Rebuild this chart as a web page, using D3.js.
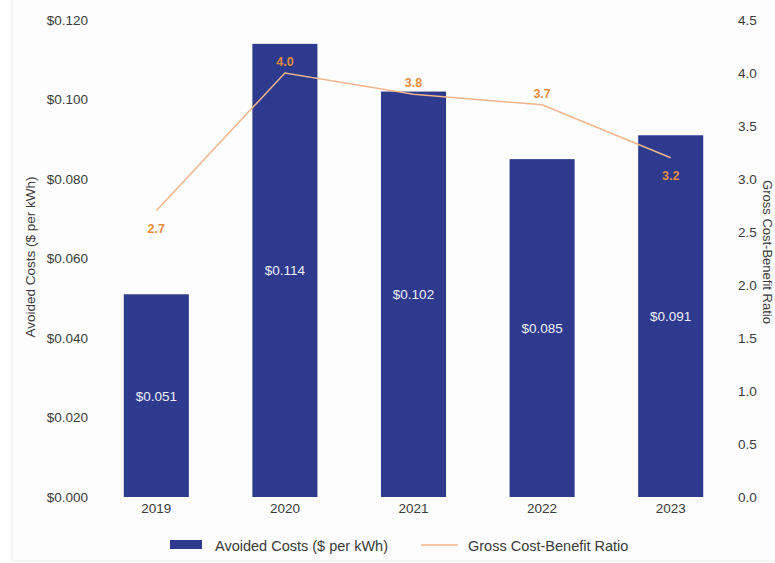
<!DOCTYPE html>
<html><head><meta charset="utf-8">
<script src="https://cdn.jsdelivr.net/npm/d3@7"></script>
<style>body{margin:0;background:#fff}svg{display:block;font-family:"Liberation Sans",Arial,sans-serif}</style>
</head><body>
<svg id="c" width="775" height="563"></svg>
<script>
const years = ["2019","2020","2021","2022","2023"];
const avoidedCosts = [0.051,0.114,0.102,0.085,0.091];
const ratio = [2.7,4.0,3.8,3.7,3.2];
const leftTicks = [0,0.02,0.04,0.06,0.08,0.10,0.12];
const rightTicks = [0,0.5,1.0,1.5,2.0,2.5,3.0,3.5,4.0,4.5];
const ratioLabelPos = ["below","above","above","above","below"];

const svg = d3.select("#c");
svg.append("rect").attr("x",12).attr("y",-1).attr("width",770).attr("height",562).attr("fill","#fdfdfd").attr("stroke","#ebebeb");

const x = d3.scaleBand().domain(years).range([92,735]).paddingInner(0.494).paddingOuter(0.247);
const yL = d3.scaleLinear().domain([0,0.12]).range([497,20]);
const yR = d3.scaleLinear().domain([0,4.5]).range([497,20]);

const txt = "#3a3a3a";
const lAxis = svg.append("g").attr("transform","translate(96,0)")
  .call(d3.axisLeft(yL).tickValues(leftTicks).tickFormat(d=>"$"+d.toFixed(3)).tickSize(0).tickPadding(8));
const rAxis = svg.append("g").attr("transform","translate(730,0)")
  .call(d3.axisRight(yR).tickValues(rightTicks).tickFormat(d=>d.toFixed(1)).tickSize(0).tickPadding(8));
const bAxis = svg.append("g").attr("transform","translate(0,497)")
  .call(d3.axisBottom(x).tickSize(0).tickPadding(6));
[lAxis,rAxis,bAxis].forEach(g=>{g.select(".domain").remove();g.selectAll("text").attr("fill",txt).style("font-size","13.5px").style("font-family","Liberation Sans, Arial, sans-serif");});

svg.append("text").attr("transform","translate(35,257) rotate(-90)").attr("text-anchor","middle")
  .attr("fill",txt).style("font-size","13.5px").text("Avoided Costs ($ per kWh)");
svg.append("text").attr("transform","translate(763,252) rotate(90)").attr("text-anchor","middle")
  .attr("fill",txt).style("font-size","13px").text("Gross Cost-Benefit Ratio");

const barColor = "#2e3a8e";
svg.append("g").selectAll("rect").data(years).join("rect")
  .attr("x",d=>x(d)).attr("width",x.bandwidth())
  .attr("y",(d,i)=>yL(avoidedCosts[i])).attr("height",(d,i)=>yL(0)-yL(avoidedCosts[i]))
  .attr("fill",barColor);
svg.append("g").selectAll("text").data(years).join("text")
  .attr("x",d=>x(d)+x.bandwidth()/2)
  .attr("y",(d,i)=>(yL(avoidedCosts[i])+yL(0))/2+5)
  .attr("text-anchor","middle").attr("fill","#eef0f8").style("font-size","13.5px")
  .text((d,i)=>"$"+avoidedCosts[i].toFixed(3));

const lineColor = "#f2b48a";
const line = d3.line().x((d,i)=>x(years[i])+x.bandwidth()/2).y(d=>yR(d));
svg.append("path").datum(ratio).attr("d",line).attr("fill","none").attr("stroke",lineColor).attr("stroke-width",1.5);
svg.append("g").selectAll("text").data(ratio).join("text")
  .attr("x",(d,i)=>x(years[i])+x.bandwidth()/2)
  .attr("y",(d,i)=>ratioLabelPos[i]==="above"?yR(d)-7:yR(d)+22)
  .attr("text-anchor","middle").attr("fill","#e58c3c").style("font-size","12.5px").style("font-weight","bold")
  .text(d=>d.toFixed(1));

const lg = svg.append("g");
lg.append("rect").attr("x",170).attr("y",540).attr("width",32).attr("height",9).attr("fill",barColor);
lg.append("text").attr("x",215).attr("y",551).attr("fill",txt).style("font-size","14.5px").text("Avoided Costs ($ per kWh)");
lg.append("line").attr("x1",421).attr("x2",458).attr("y1",545).attr("y2",545).attr("stroke",lineColor).attr("stroke-width",1.5);
lg.append("text").attr("x",468).attr("y",551).attr("fill",txt).style("font-size","14.5px").text("Gross Cost-Benefit Ratio");
</script>
</body></html>
